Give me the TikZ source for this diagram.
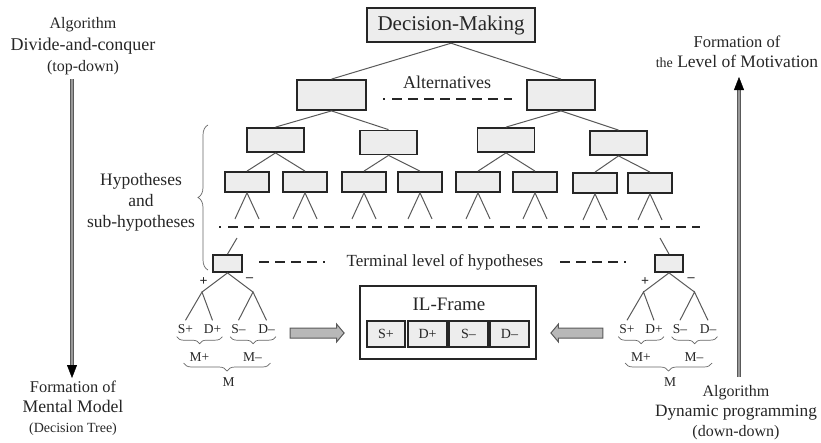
\documentclass[tikz,border=0pt]{standalone}
\usepackage{fontspec}
\setmainfont{Liberation Serif}
\usetikzlibrary{arrows.meta,decorations.pathreplacing,shapes.arrows}
\begin{document}
\begin{tikzpicture}
[x=1pt,y=-1pt,
 nodedecorate/.style={shape=rectangle,inner sep=0pt,draw=black!85,line width=1.8pt,fill=black!7},%
 leafdecorate/.style={shape=rectangle,inner sep=1pt,text=black!85,font=\fontsize{13.5}{15}\selectfont},%
 textdecorate/.style={align=center,text=black!85},%
 linedecorate/.style={-,line width=1pt,draw=black!65},%
 dashdecorate/.style={line width=1.3pt,draw=black!85,dash pattern=on 10pt off 6pt},%
 bracedecorate/.style={decorate,decoration={brace,amplitude=#1},line width=0.7pt,draw=black!60},%
 bracedecorate/.default=7pt,%
 flowdecorate/.style={line width=0.8pt,draw=black!65,double=black!40,double distance=1.8pt},%
 tipdecorate/.style={-{Triangle[length=13pt,width=10pt]},line width=0.4pt,black},%
 fatdecorate/.style={single arrow,draw=black!65,line width=1pt,fill=black!28,inner sep=0pt,
  single arrow head extend=4pt,single arrow tip angle=100}]
\useasboundingbox (0,0) rectangle (821,442);
%% nodes or vertices
\node (Decision) at (451,25) [nodedecorate,line width=2.4pt,minimum width=168pt,minimum height=34pt,
 text=black!85,font=\fontsize{21}{25}\selectfont] {Decision-Making};
\foreach \nodename/\x/\y/\w/\h in {AltLeft/331.5/95/69/30, AltRight/561/95/68/30,
 HypA/275.5/140/57/24, HypB/388.5/142.5/57/24, HypC/506/140/57/24, HypD/618.5/143/57/24,
 HypA1/247/182/44/20, HypA2/305/182/44/20, HypB1/364/182/44/20, HypB2/420/182/44/20,
 HypC1/478/182/44/20, HypC2/535/182/44/20, HypD1/595/183/44/20, HypD2/650/183/44/20,
 TermL/227.5/263.5/29/17, TermR/669/263.5/28/17}
{
  \node (\nodename) at (\x,\y) [nodedecorate,minimum width=\w pt,minimum height=\h pt] {};
}
%% edges or lines
\path
\foreach \startnode/\endnode in {Decision/AltLeft, Decision/AltRight,
 AltLeft/HypA, AltLeft/HypB, AltRight/HypC, AltRight/HypD,
 HypA/HypA1, HypA/HypA2, HypB/HypB1, HypB/HypB2,
 HypC/HypC1, HypC/HypC2, HypD/HypD1, HypD/HypD2}
{
  (\startnode.south) edge[linedecorate] (\endnode.north)
};
\foreach \nodename in {HypA1, HypA2, HypB1, HypB2, HypC1, HypC2, HypD1, HypD2}
{
  \coordinate (\nodename-l) at ([xshift=-12pt,yshift=-26pt]\nodename.south);
  \coordinate (\nodename-r) at ([xshift=12pt,yshift=-26pt]\nodename.south);
  \draw[linedecorate] (\nodename-l) -- (\nodename.south) -- (\nodename-r);
}
\coordinate (TermL-up) at (237,238);
\coordinate (TermR-up) at (660,238);
\draw[linedecorate] (TermL-up) -- (TermL.north);
\draw[linedecorate] (TermR-up) -- (TermR.north);
%% level marks
\node (AltText) at (447,82) [textdecorate,font=\fontsize{18}{21}\selectfont] {Alternatives};
\draw[dashdecorate] (383,99) -- (385,99);
\draw[dashdecorate] (392,99) -- (512,99);
\draw[dashdecorate] (219,227) -- (221,227);
\draw[dashdecorate] (228,227) -- (700,227);
\node (TermText) at (445,262) [textdecorate,font=\fontsize{17}{20}\selectfont] {Terminal level of hypotheses};
\draw[dashdecorate] (259,262) -- (325,262);
\draw[dashdecorate] (560,262) -- (626,262);
\node (HypText) at (141,202) [textdecorate,font=\fontsize{17.5}{21}\selectfont] {Hypotheses\\and\\sub-hypotheses};
\draw[bracedecorate=10pt] (208,270) -- (208,125);
%% trees below the terminal level
\foreach \t/\x in {L/227.5, R/669}
{
  \coordinate (\t-p) at (\x-25.5,292);
  \coordinate (\t-m) at (\x+25.5,292);
  \node (\t-plus) at (\x-24,281.5) [leafdecorate,font=\fontsize{14}{16}\selectfont\bfseries] {+};
  \node (\t-minus) at (\x+22,279.5) [leafdecorate,font=\fontsize{14}{16}\selectfont\bfseries] {\textendash};
  \node (\t-sp) at (\x-42,329) [leafdecorate] {S+};
  \node (\t-dp) at (\x-15,329) [leafdecorate] {D+};
  \node (\t-sm) at (\x+11,329) [leafdecorate] {S\textendash};
  \node (\t-dm) at (\x+39,329) [leafdecorate] {D\textendash};
  \draw[linedecorate] (\t-p) -- (Term\t.south) -- (\t-m);
  \draw[linedecorate] ([yshift=3pt]\t-sp.north) -- (\t-p) -- ([yshift=3pt]\t-dp.north);
  \draw[linedecorate] ([yshift=3pt]\t-sm.north) -- (\t-m) -- ([yshift=3pt]\t-dm.north);
  \draw[bracedecorate,decoration={mirror}] ([yshift=-2pt]\t-sp.south west) -- ([yshift=-2pt]\t-dp.south east);
  \draw[bracedecorate,decoration={mirror}] ([yshift=-2pt]\t-sm.south west) -- ([yshift=-2pt]\t-dm.south east);
  \node (\t-Mp) at (\x-28,357) [leafdecorate] {M+};
  \node (\t-Mm) at (\x+25,357) [leafdecorate] {M\textendash};
  \draw[bracedecorate=8pt,decoration={mirror}] (\x-44,363) -- (\x+43,363);
  \node (\t-M) at (\x+1,382) [leafdecorate] {M};
}
%% IL-Frame
\node (Frame) at (448,322.5) [draw=black!85,line width=1.5pt,minimum width=176pt,minimum height=73pt] {};
\node (FrameText) at (449,304) [textdecorate,font=\fontsize{19}{22}\selectfont] {IL-Frame};
\foreach \nodename/\x/\txt in {FrameSp/386/S+, FrameDp/427.5/D+, FrameSm/468.5/S\textendash, FrameDm/509.5/D\textendash}
{
  \node (\nodename) at (\x,334) [nodedecorate,minimum width=38.5pt,minimum height=26pt,
   text=black!85,font=\fontsize{14}{16}\selectfont] {\txt};
}
\node (ToFrame) at (315,333) [fatdecorate,minimum height=54pt] {\rule{0pt}{9pt}};
\node (FromTree) at (579,333) [fatdecorate,minimum height=52pt,shape border rotate=180] {\rule{0pt}{9pt}};
%% algorithms at the sides
\node (TopLeft) at (83,46.5) [textdecorate,font=\fontsize{18}{21.5}\selectfont]
 {{\fontsize{16}{19}\selectfont Algorithm}\\Divide-and-conquer\\{\fontsize{16}{19}\selectfont (top-down)}};
\node (BotLeft) at (73,408) [textdecorate,font=\fontsize{17.7}{20}\selectfont]
 {{\fontsize{16.4}{19}\selectfont Formation of}\\Mental Model\\{\fontsize{14}{16}\selectfont (Decision Tree)}};
\node (TopRight) at (737,52) [textdecorate,font=\fontsize{17.5}{20}\selectfont]
 {{\fontsize{16.5}{19}\selectfont Formation of}\\{\fontsize{14}{16}\selectfont the} Level of Motivation};
\node (BotRight) at (736,413) [textdecorate,font=\fontsize{17.3}{20}\selectfont]
 {{\fontsize{16}{19}\selectfont Algorithm}\\Dynamic programming\\{\fontsize{16}{19}\selectfont (down-down)}};
\coordinate (DownStart) at (72,79);
\coordinate (DownEnd) at (72,378);
\coordinate (UpStart) at (739,377);
\coordinate (UpEnd) at (739,77);
\draw[flowdecorate] (DownStart) -- ([yshift=12pt]DownEnd);
\draw[tipdecorate] ([yshift=12pt]DownEnd) -- (DownEnd);
\draw[flowdecorate] (UpStart) -- ([yshift=-12pt]UpEnd);
\draw[tipdecorate] ([yshift=-12pt]UpEnd) -- (UpEnd);
\end{tikzpicture}
\end{document}
